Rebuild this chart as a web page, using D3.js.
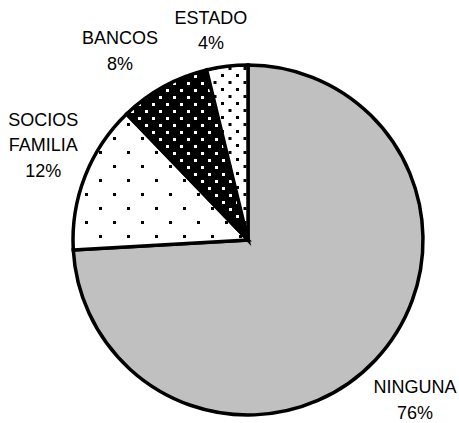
<!DOCTYPE html>
<html>
<head>
<meta charset="utf-8">
<script src="https://cdn.jsdelivr.net/npm/d3@7"></script>
<style>
    body { margin: 0; background: #fff; }
    .pie-label { font-family: Arial, 'Liberation Sans', sans-serif; font-size: 18px; fill: #000; }
</style>
</head>
<body>
<div id="chart"></div>
<script>
// slice sizes as they are drawn (the printed labels are Excel's rounded ones)
const categories = ['NINGUNA', 'SOCIOS\nFAMILIA', 'BANCOS', 'ESTADO']
const values = [74.1, 13.7, 8.4, 3.8]
const pctLabels = ['76%', '12%', '8%', '4%']
const fills = ['#c0c0c0', 'url(#pat-socios)', 'url(#pat-bancos)', 'url(#pat-estado)']

const layout = { width: 459, height: 423, cx: 248, cy: 240, r: 175, pad: 9, lineH: 25.5 }
// small hand nudges so labels sit where Excel put them
const labelNudge = [[0, 2], [9, -11], [-21, 6], [-12, 0]]

const svg = d3.select('#chart').append('svg')
    .attr('width', layout.width)
    .attr('height', layout.height)

const defs = svg.append('defs')

function dotPattern(id, w, h, bg, fg, dots) {
    const p = defs.append('pattern')
        .attr('id', id)
        .attr('patternUnits', 'userSpaceOnUse')
        .attr('width', w)
        .attr('height', h)
    p.append('rect').attr('width', w).attr('height', h).attr('fill', bg)
    dots.forEach(d => {
        p.append('rect').attr('x', d[0]).attr('y', d[1]).attr('width', 3).attr('height', 3).attr('fill', fg)
    })
}
dotPattern('pat-socios', 28, 28, '#fff', '#000', [[5, 9], [19, 23]])
dotPattern('pat-bancos', 14, 14, '#000', '#fff', [[2, 3], [9, 10]])
dotPattern('pat-estado', 15, 14, '#fff', '#000', [[3, 2], [10.5, 9]])

const g = svg.append('g')
    .attr('transform', `translate(${layout.cx},${layout.cy})`)

const pie = d3.pie().sort(null).value(d => d)
const arcs = pie(values)
const arc = d3.arc().innerRadius(0).outerRadius(layout.r)

g.selectAll('.slice')
    .data(arcs)
    .enter()
    .append('path')
    .attr('class', 'slice')
    .attr('d', arc)
    .attr('fill', (d, i) => fills[i])
    .attr('stroke', '#000')
    .attr('stroke-width', 3.5)
    .attr('stroke-linejoin', 'miter')

// labels pushed outward along the mid angle until the text box clears the pie
const labelG = svg.append('g')
arcs.forEach((a, i) => {
    const lines = categories[i].split('\n').concat([pctLabels[i]])
    const t = labelG.append('text').attr('class', 'pie-label').attr('text-anchor', 'middle')
    lines.forEach((l, j) => {
        t.append('tspan').attr('x', 0).attr('y', j * layout.lineH).text(l)
    })
    const bb = t.node().getBBox()
    const mid = (a.startAngle + a.endAngle) / 2
    const dx = Math.sin(mid)
    const dy = -Math.cos(mid)
    const ext = Math.abs(dx) * bb.width / 2 + Math.abs(dy) * bb.height / 2
    const dist = layout.r + layout.pad + ext
    const x = layout.cx + dx * dist + labelNudge[i][0]
    const y = layout.cy + dy * dist - (bb.y + bb.height / 2) + labelNudge[i][1]
    t.attr('transform', `translate(${x},${y})`)
})
</script>
</body>
</html>
